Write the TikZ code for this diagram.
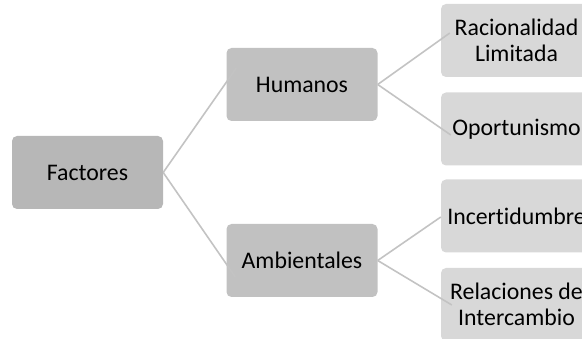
\documentclass[tikz,border=0pt]{standalone}
\usepackage{fontspec}
\setmainfont{Carlito}[Ligatures={NoCommon}]
\usetikzlibrary{calc}
\definecolor{rootfill}{RGB}{183,183,183}
\definecolor{midfill}{RGB}{193,193,193}
\definecolor{leaffill}{RGB}{216,216,216}
\definecolor{linkcol}{RGB}{195,195,195}
\begin{document}
\begin{tikzpicture}[x=1pt,y=-1pt,
  box/.style={rectangle, rounded corners=5pt, minimum width=151pt, minimum height=73pt,
    inner sep=0pt, align=center, font=\fontsize{23.8}{26}\selectfont, text=black},
  rootbox/.style={box, fill=rootfill},
  midbox/.style={box, fill=midfill},
  leafbox/.style={box, fill=leaffill},
  link/.style={draw=linkcol, line width=1.6pt}]
\useasboundingbox (0,0) rectangle (582,339);
\clip (0,0) rectangle (582,339);
\node[rootbox] (f) at (87.5,172.5) {Factores};
\node[midbox] (h) at (302,84.5) {Humanos};
\node[midbox] (a) at (302,260.5) {Ambientales};
\node[leafbox] (r) at (516.5,40.5) {Racionalidad\\Limitada};
\node[leafbox] (o) at (516.5,129) {Oportunismo};
\node[leafbox] (i) at (516.5,216) {Incertidumbre};
\node[leafbox] (x) at (516.5,304.5) {Relaciones de\\Intercambio};
\draw[link] (f.east) -- ($(h.west)+(10,-16.5)$);
\draw[link] (f.east) -- ($(a.west)+(9,16.5)$);
\draw[link] (h.east) -- ($(r.west)+(9,-7.5)$);
\draw[link] (h.east) -- ($(o.west)+(10,6)$);
\draw[link] (a.east) -- ($(i.west)+(0,1)$);
\draw[link] (a.east) -- ($(x.west)+(11,0.5)$);
\end{tikzpicture}
\end{document}
